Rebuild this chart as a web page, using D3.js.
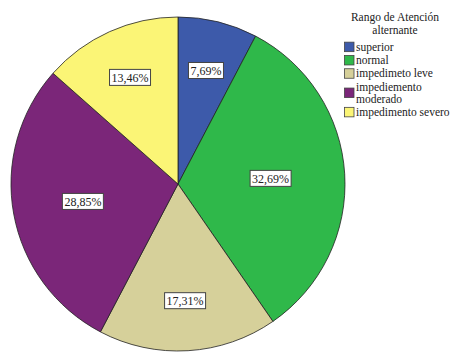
<!DOCTYPE html>
<html>
<head>
<meta charset="utf-8">
<script src="https://cdn.jsdelivr.net/npm/d3@7/dist/d3.min.js"></script>
<style>
  body { margin: 0; background: #fff; }
  svg text { font-family: "Times New Roman", Times, "Liberation Serif", "DejaVu Serif", serif; }
</style>
</head>
<body>
<div id="chart"></div>
<script>
  const categories = ["superior", "normal", "impedimeto leve", "impediemento moderado", "impedimento severo"];
  const percents = [7.69, 32.69, 17.31, 28.85, 13.46];
  const colors = ["#3d5aaa", "#2fb84a", "#d6d09a", "#7b2679", "#fbf576"];
  const legendTitle = ["Rango de Atención", "alternante"];

  const width = 461, height = 353;
  const radius = 167;
  const cx = 178, cy = 184;

  const svg = d3.select("#chart").append("svg")
    .attr("width", width)
    .attr("height", height);

  const pie = d3.pie().sort(null).value(function (d) { return d; });
  const arc = d3.arc().innerRadius(0).outerRadius(radius);
  const slices = pie(percents);

  const g = svg.append("g")
    .attr("transform", "translate(" + cx + "," + cy + ")");

  g.selectAll("path.slice")
    .data(slices)
    .enter().append("path")
    .attr("class", "slice")
    .attr("d", arc)
    .attr("fill", function (d, i) { return colors[i]; })
    .attr("stroke", "#222")
    .attr("stroke-width", 0.8);

  // labels at the sector centroid; thin slices get a fixed outer radius
  function labelPos(d) {
    const a = d.endAngle - d.startAngle;
    const mid = (d.startAngle + d.endAngle) / 2;
    var r = 4 * radius * Math.sin(a / 2) / (3 * a);
    if (d.data < 20) r = Math.max(r, 0.7 * radius);
    return [r * Math.sin(mid), -r * Math.cos(mid)];
  }

  const labels = g.selectAll("g.label")
    .data(slices)
    .enter().append("g")
    .attr("class", "label")
    .attr("transform", function (d) {
      const p = labelPos(d);
      return "translate(" + p[0] + "," + p[1] + ")";
    });

  labels.append("text")
    .attr("text-anchor", "middle")
    .attr("dy", "0.35em")
    .attr("font-size", 12)
    .attr("fill", "#222")
    .text(function (d) { return d.data.toFixed(2).replace(".", ",") + "%"; });

  labels.each(function () {
    const t = d3.select(this).select("text");
    const b = t.node().getBBox();
    d3.select(this).insert("rect", "text")
      .attr("x", b.x - 2)
      .attr("y", -8)
      .attr("width", b.width + 4)
      .attr("height", 16)
      .attr("fill", "#fff")
      .attr("stroke", "#444")
      .attr("stroke-width", 1);
  });

  // legend
  const legend = svg.append("g").attr("class", "legend");

  legend.selectAll("text.title")
    .data(legendTitle)
    .enter().append("text")
    .attr("class", "title")
    .attr("x", 395)
    .attr("y", function (d, i) { return 21 + i * 12.5; })
    .attr("text-anchor", "middle")
    .attr("font-size", 11.5)
    .attr("fill", "#222")
    .text(function (d) { return d; });

  const lineH = 12;
  const maxText = 100;
  var y = 40;
  categories.forEach(function (name, i) {
    const item = legend.append("g");
    const text = item.append("text")
      .attr("x", 356)
      .attr("font-size", 11.5)
      .attr("fill", "#222");

    // wrap the name on words when too wide
    const words = name.split(" ");
    var lines = [words[0]];
    for (var k = 1; k < words.length; k++) {
      const tryLine = lines[lines.length - 1] + " " + words[k];
      text.text(tryLine);
      if (text.node().getComputedTextLength() > maxText) {
        lines.push(words[k]);
      } else {
        lines[lines.length - 1] = tryLine;
      }
    }
    text.text(null);

    const h = lines.length * lineH + 1.3;
    const mid = y + h / 2;
    lines.forEach(function (line, j) {
      text.append("tspan")
        .attr("x", 356)
        .attr("y", mid - (lines.length - 1) * lineH / 2 + j * lineH)
        .attr("dy", "0.35em")
        .text(line);
    });

    item.append("rect")
      .attr("x", 344.5)
      .attr("y", mid - 4.5)
      .attr("width", 9.5)
      .attr("height", 9.5)
      .attr("fill", colors[i])
      .attr("stroke", "#444")
      .attr("stroke-width", 0.8);

    y += h;
  });
</script>
</body>
</html>
